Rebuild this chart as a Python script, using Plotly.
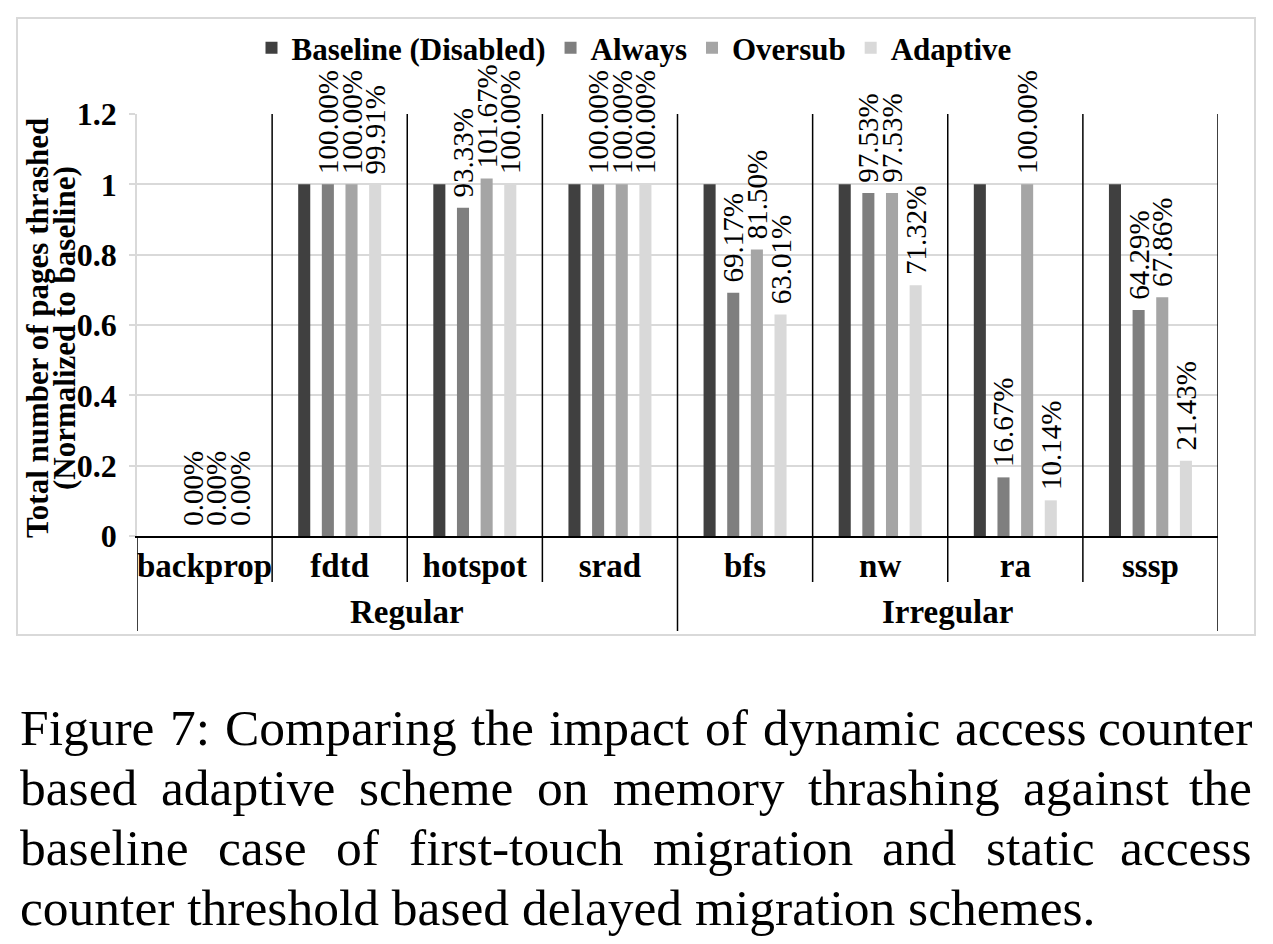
import plotly.graph_objects as go

# ---------------- data ----------------
categories = ["backprop", "fdtd", "hotspot", "srad", "bfs", "nw", "ra", "sssp"]
groups = ["Regular", "Irregular"]
group_spans = [(0, 3), (4, 7)]
series_names = ["Baseline (Disabled)", "Always", "Oversub", "Adaptive"]
baseline = [0, 1, 1, 1, 1, 1, 1, 1]
always = [0.0, 1.0, 0.9333, 1.0, 0.6917, 0.9753, 0.1667, 0.6429]
oversub = [0.0, 1.0, 1.0167, 1.0, 0.8150, 0.9753, 1.0, 0.6786]
adaptive = [0.0, 0.9991, 1.0, 1.0, 0.6301, 0.7132, 0.1014, 0.2143]
y_ticks = [0, 0.2, 0.4, 0.6, 0.8, 1, 1.2]
y_title_lines = ["Total number of pages thrashed", "(Normalized to baseline)"]
caption_lines = [
    "Figure 7: Comparing the impact of dynamic access counter",
    "based adaptive scheme on memory thrashing against the",
    "baseline case of first-touch migration and static access",
    "counter threshold based delayed migration schemes.",
]

colors = ["#404040", "#7f7f7f", "#a5a5a5", "#d9d9d9"]
SERIF = "Liberation Serif"

W, H = 1273, 944
ML, MR, MT, MB = 137, 55, 114, 408
PW = W - ML - MR
PH = H - MT - MB


def px(xp):
    return (xp - ML) / PW


def py(yp):
    return (H - MB - yp) / PH


fig = go.Figure()
all_series = [baseline, always, oversub, adaptive]
for i, (name, vals) in enumerate(zip(series_names, all_series)):
    if i == 0:
        text = None
    else:
        text = [f"\u00a0{v * 100:.2f}%" for v in vals]
    fig.add_trace(go.Bar(
        x=categories, y=vals, name=name,
        marker=dict(color=colors[i], line=dict(width=0)),
        text=text, textposition="outside", textangle=-90,
        constraintext="none", cliponaxis=False,
        textfont=dict(family=SERIF, size=29, color="black"),
        hoverinfo="skip",
    ))

shapes = []
# outer chart border
shapes.append(dict(type="rect", xref="paper", yref="paper",
                   x0=px(17), x1=px(1255), y0=py(635), y1=py(18),
                   line=dict(color="#d9d9d9", width=2), layer="below"))
# category separators
n = len(categories)
group_edges = {-0.5, 3.5, 7.5}
for k in range(n + 1):
    xb = k - 0.5
    if xb in group_edges:
        top = 0 if xb == -0.5 else 1
        bot = py(631)
    else:
        top = 1
        bot = py(582)
    shapes.append(dict(type="line", xref="x", yref="paper",
                       x0=xb, x1=xb, y0=bot, y1=top,
                       line=dict(color="black", width=1.5), layer="above"))

annotations = []
# group labels
for g, (a, b) in zip(groups, group_spans):
    annotations.append(dict(xref="x", yref="paper", x=(a + b) / 2, y=py(612),
                            text=g, showarrow=False,
                            font=dict(family=SERIF, size=33, color="black", weight="bold"),
                            xanchor="center", yanchor="middle"))
# y axis title (two lines)
for line, xc in zip(y_title_lines, [37, 64]):
    annotations.append(dict(xref="paper", yref="paper", x=px(xc), y=py(328),
                            text=f"<b>{line}</b>", showarrow=False, textangle=-90,
                            font=dict(family=SERIF, size=31, color="black"),
                            xanchor="center", yanchor="middle"))

# caption with justified lines
TW = {'a': 444, 'b': 500, 'c': 444, 'd': 500, 'e': 444, 'f': 333, 'g': 500, 'h': 500,
      'i': 278, 'k': 500, 'l': 278, 'm': 778, 'n': 500, 'o': 500, 'p': 500, 'r': 333,
      's': 389, 't': 278, 'u': 500, 'v': 500, 'w': 722, 'y': 500, 'z': 444, 'F': 556,
      'C': 667, '7': 500, ':': 278, '-': 333, '.': 250}
CAP_SIZE = 51.5
CAP_L, CAP_R = 18, 1254
cap_y = [727, 787, 847, 907]


def wwidth(w):
    return sum(TW.get(c, 500) for c in w) / 1000 * CAP_SIZE


for li, (line, yc) in enumerate(zip(caption_lines, cap_y)):
    if li == len(caption_lines) - 1:
        annotations.append(dict(xref="paper", yref="paper", x=px(CAP_L), y=py(yc),
                                text=line, showarrow=False,
                                font=dict(family=SERIF, size=CAP_SIZE, color="black"),
                                xanchor="left", yanchor="middle"))
        continue
    words = line.split(" ")
    widths = [wwidth(w) for w in words]
    gap = (CAP_R - CAP_L - sum(widths)) / (len(words) - 1)
    xcur = CAP_L
    for wi, (w, ww) in enumerate(zip(words, widths)):
        if wi == len(words) - 1:
            annotations.append(dict(xref="paper", yref="paper", x=px(CAP_R), y=py(yc),
                                    text=w, showarrow=False,
                                    font=dict(family=SERIF, size=CAP_SIZE, color="black"),
                                    xanchor="right", yanchor="middle"))
        else:
            annotations.append(dict(xref="paper", yref="paper", x=px(xcur), y=py(yc),
                                    text=w, showarrow=False,
                                    font=dict(family=SERIF, size=CAP_SIZE, color="black"),
                                    xanchor="left", yanchor="middle"))
        xcur += ww + gap

fig.update_layout(
    width=W, height=H,
    margin=dict(l=ML, r=MR, t=MT, b=MB, pad=0),
    paper_bgcolor="white", plot_bgcolor="white",
    barmode="group", bargap=0.3, bargroupgap=0.49,
    showlegend=True,
    legend=dict(orientation="h", x=px(634), xanchor="center", y=py(48), yanchor="middle",
                font=dict(family=SERIF, size=31, color="black", weight="bold"),
                bgcolor="rgba(0,0,0,0)", itemclick=False, itemdoubleclick=False),
    shapes=shapes, annotations=annotations,
    xaxis=dict(type="category", range=[-0.5, 7.5], showgrid=False,
               showline=True, linecolor="black", linewidth=1.5,
               tickfont=dict(family=SERIF, size=33, color="black", weight="bold"),
               ticks="", fixedrange=True),
    yaxis=dict(range=[0, 1.2], tickvals=y_ticks, ticktext=[f"{v:g}" for v in y_ticks],
               showgrid=True, gridcolor="#d9d9d9", gridwidth=1.5,
               showline=True, linecolor="#d9d9d9", linewidth=1.5,
               ticks="outside", ticklen=6, tickcolor="#d9d9d9", tickwidth=1.5,
               zeroline=False, ticklabelstandoff=6,
               tickfont=dict(family=SERIF, size=32, color="black", weight="bold"),
               fixedrange=True),
)

fig.write_html("out.html")
